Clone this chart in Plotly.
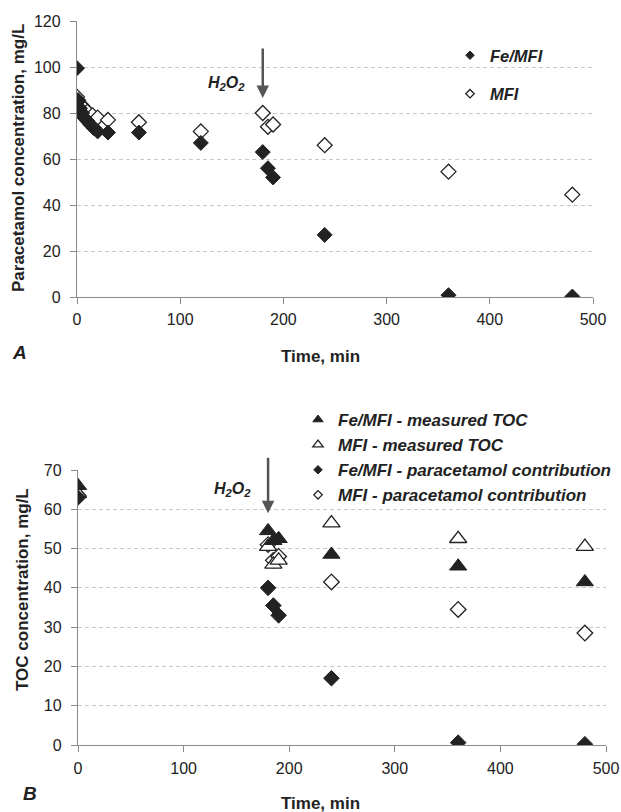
import plotly.graph_objects as go

# ---------------- Data (panel A: paracetamol concentration) ----------------
time_fe_a = [0, 1, 3, 5, 7, 10, 13, 16, 20, 30, 60, 120, 180, 185, 190, 240, 360, 480]
para_fe = [99.5, 85, 82, 80, 78, 76.5, 75, 73.5, 72, 71.5, 71.5, 67, 63, 56, 52, 27, 0.8, 0.2]
time_mfi_a = [0, 1, 3, 5, 7, 10, 15, 20, 30, 60, 120, 180, 185, 190, 240, 360, 480]
para_mfi = [87, 85.5, 84, 83, 82, 80.5, 79, 78, 77, 76, 72, 80, 74, 75, 66, 54.5, 44.5]

# ---------------- Data (panel B: TOC) ----------------
time_b = [0, 180, 185, 190, 240, 360, 480]
toc_fe_measured = [66, 54.5, 52, 52.5, 48.5, 45.5, 41.5]
toc_mfi_measured = [64, 50.5, 46, 47, 56.5, 52.5, 50.5]
toc_fe_contrib = [63, 40, 35.5, 33, 17, 0.6, 0.2]
toc_mfi_contrib = [63.5, 51, 47, 48, 41.5, 34.5, 28.5]

H2O2_TIME = 180
x_ticks = [0, 100, 200, 300, 400, 500]
y_ticks_a = [0, 20, 40, 60, 80, 100, 120]
y_ticks_b = [0, 10, 20, 30, 40, 50, 60, 70]

W, H = 621, 812
FONT = "Liberation Sans, Arial, sans-serif"
DARK = "#222222"
AXIS = "#8a8a8a"
GRID = "#c8c8c8"


def px_x(p):
    return p / W


def px_y(p):
    return 1 - p / H


fig = go.Figure()

filled = dict(color=DARK, line=dict(color=DARK, width=1))
opened = dict(color="white", line=dict(color=DARK, width=1.3))

# ---- panel A traces ----
fig.add_trace(go.Scatter(x=time_mfi_a, y=para_mfi, mode="markers", xaxis="x", yaxis="y",
                         marker=dict(symbol="diamond", size=11.5, **opened), showlegend=False))
fig.add_trace(go.Scatter(x=time_fe_a, y=para_fe, mode="markers", xaxis="x", yaxis="y",
                         marker=dict(symbol="diamond", size=11.5, **filled), showlegend=False))
# legend entries A
fig.add_trace(go.Scatter(x=[None], y=[None], mode="markers", xaxis="x", yaxis="y",
                         name="<b><i>Fe/MFI</i></b>", legend="legend", legendgroup="a1",
                         marker=dict(symbol="diamond", size=6.5, **filled)))
fig.add_trace(go.Scatter(x=[None], y=[None], mode="markers", xaxis="x", yaxis="y",
                         name="<b><i>MFI</i></b>", legend="legend", legendgroup="a2",
                         marker=dict(symbol="diamond", size=6.5, **opened)))

# ---- panel B traces ----
fig.add_trace(go.Scatter(x=time_b, y=toc_mfi_contrib, mode="markers", xaxis="x2", yaxis="y2",
                         marker=dict(symbol="diamond", size=12, **opened), showlegend=False))
fig.add_trace(go.Scatter(x=time_b, y=toc_mfi_measured, mode="markers", xaxis="x2", yaxis="y2",
                         marker=dict(symbol="triangle-up", size=15, **opened), showlegend=False))
fig.add_trace(go.Scatter(x=time_b, y=toc_fe_contrib, mode="markers", xaxis="x2", yaxis="y2",
                         marker=dict(symbol="diamond", size=12, **filled), showlegend=False))
fig.add_trace(go.Scatter(x=time_b, y=toc_fe_measured, mode="markers", xaxis="x2", yaxis="y2",
                         marker=dict(symbol="triangle-up", size=15, **filled), showlegend=False))
# legend entries B
for nm, sym, sz, st in [
    ("<b><i>Fe/MFI - measured TOC</i></b>", "triangle-up", 9, filled),
    ("<b><i>MFI - measured TOC</i></b>", "triangle-up", 9, opened),
    ("<b><i>Fe/MFI - paracetamol contribution</i></b>", "diamond", 6.5, filled),
    ("<b><i>MFI - paracetamol contribution</i></b>", "diamond", 6.5, opened),
]:
    fig.add_trace(go.Scatter(x=[None], y=[None], mode="markers", xaxis="x2", yaxis="y2",
                             name=nm, legend="legend2",
                             marker=dict(symbol=sym, size=sz, **st)))

axis_common = dict(showline=True, linecolor=AXIS, linewidth=1.3, ticks="outside",
                   ticklen=6, tickcolor=AXIS, tickwidth=1.2, zeroline=False,
                   automargin=False,
                   tickfont=dict(family=FONT, size=16, color=DARK), fixedrange=True)

fig.update_layout(
    template="none",
    width=W, height=H,
    margin=dict(l=0, r=0, t=0, b=0, pad=0, autoexpand=False),
    paper_bgcolor="white", plot_bgcolor="white",
    font=dict(family=FONT, color=DARK),
    xaxis=dict(domain=[px_x(77), px_x(593)], range=[0, 500], anchor="y",
               tickvals=x_ticks, showgrid=False, ticklabelstandoff=2, **axis_common),
    yaxis=dict(domain=[px_y(297), px_y(21)], range=[0, 120], anchor="x",
               tickvals=y_ticks_a, showgrid=True, gridcolor=GRID, griddash="4px,3px",
               gridwidth=1, ticklabelstandoff=6, **axis_common),
    xaxis2=dict(domain=[px_x(78), px_x(606)], range=[0, 500], anchor="y2",
                tickvals=x_ticks, showgrid=False, ticklabelstandoff=3, **axis_common),
    yaxis2=dict(domain=[px_y(745), px_y(470)], range=[0, 70], anchor="x2",
                tickvals=y_ticks_b, showgrid=True, gridcolor=GRID, griddash="4px,3px",
                gridwidth=1, ticklabelstandoff=6, **axis_common),
    legend=dict(x=px_x(450), y=px_y(38), xanchor="left", yanchor="top",
                bgcolor="rgba(0,0,0,0)", borderwidth=0, itemwidth=30,
                traceorder="grouped", tracegroupgap=14,
                font=dict(family=FONT, size=16.5, color=DARK)),
    legend2=dict(x=px_x(298), y=px_y(402), xanchor="left", yanchor="top",
                 bgcolor="rgba(0,0,0,0)", borderwidth=0, itemwidth=30,
                 traceorder="normal",
                 font=dict(family=FONT, size=17, color=DARK)),
    showlegend=True,
)

ann_font = lambda s: dict(family=FONT, size=s, color=DARK)
annots = [
    # H2O2 arrows
    dict(x=H2O2_TIME, y=86.5, xref="x", yref="y", ax=0, ay=-51, showarrow=True,
         arrowhead=2, arrowsize=1, arrowwidth=2.5, arrowcolor="#555555", text=""),
    dict(x=H2O2_TIME, y=59, xref="x2", yref="y2", ax=0, ay=-57, showarrow=True,
         arrowhead=2, arrowsize=1, arrowwidth=2.5, arrowcolor="#555555", text=""),
    # H2O2 labels
    dict(x=145, y=93, xref="x", yref="y", showarrow=False,
         text="<b><i>H<sub>2</sub>O<sub>2</sub></i></b>", font=ann_font(16)),
    dict(x=146, y=65.1, xref="x2", yref="y2", showarrow=False,
         text="<b><i>H<sub>2</sub>O<sub>2</sub></i></b>", font=ann_font(16)),
    # axis titles
    dict(x=px_x(18), y=px_y(158), xref="paper", yref="paper", showarrow=False, textangle=-90,
         text="<b>Paracetamol concentration, mg/L</b>", font=ann_font(17)),
    dict(x=px_x(22), y=px_y(590), xref="paper", yref="paper", showarrow=False, textangle=-90,
         text="<b>TOC concentration, mg/L</b>", font=ann_font(17)),
    dict(x=px_x(320), y=px_y(356), xref="paper", yref="paper", showarrow=False,
         text="<b>Time, min</b>", font=ann_font(17)),
    dict(x=px_x(320), y=px_y(803), xref="paper", yref="paper", showarrow=False,
         text="<b>Time, min</b>", font=ann_font(17)),
    # panel labels
    dict(x=px_x(19), y=px_y(353), xref="paper", yref="paper", showarrow=False,
         text="<b><i>A</i></b>", font=ann_font(19)),
    dict(x=px_x(30), y=px_y(793), xref="paper", yref="paper", showarrow=False,
         text="<b><i>B</i></b>", font=ann_font(19)),
]
for a in annots:
    a.setdefault("xanchor", "center")
    a.setdefault("yanchor", "middle")
fig.update_layout(annotations=annots)

fig.write_html("out.html", config={"displayModeBar": False})
